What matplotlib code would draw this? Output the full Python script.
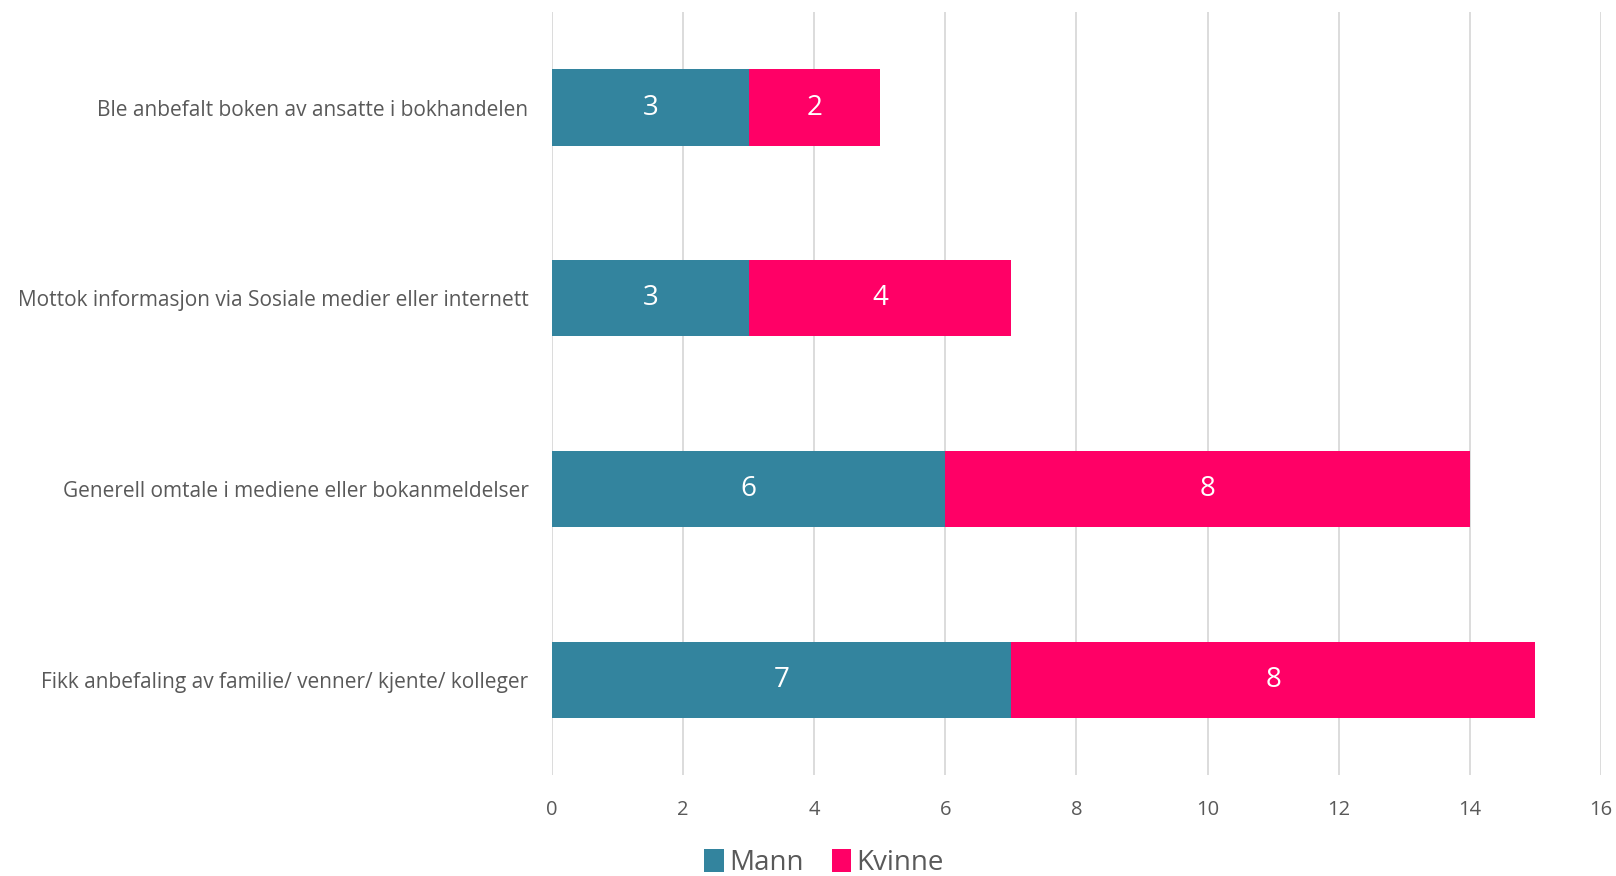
import matplotlib.pyplot as plt

categories = [
    'Ble anbefalt boken av ansatte i bokhandelen',
    'Mottok informasjon via Sosiale medier eller internett',
    'Generell omtale i mediene eller bokanmeldelser',
    'Fikk anbefaling av familie/ venner/ kjente/ kolleger',
]
mann = [3, 3, 6, 7]
kvinne = [2, 4, 8, 8]
xticks = [0, 2, 4, 6, 8, 10, 12, 14, 16]

teal = '#33849E'
pink = '#FF0066'
grey = '#595959'

plt.rcParams['font.family'] = ['Open Sans', 'DejaVu Sans']

fig = plt.figure(figsize=(16.16, 8.76), dpi=100)
ax = fig.add_axes([0.3416, 0.1153, 0.6491, 0.8707])

ypos = list(range(len(categories)))
b1 = ax.barh(ypos, mann, height=0.4, color=teal, label='Mann', zorder=3)
b2 = ax.barh(ypos, kvinne, left=mann, height=0.4, color=pink, label='Kvinne', zorder=3)
ax.bar_label(b1, label_type='center', color='white', fontsize=20)
ax.bar_label(b2, label_type='center', color='white', fontsize=20)

ax.set_ylim(3.5, -0.5)
ax.set_xlim(0, 16)
ax.set_xticks(xticks)
ax.set_yticks(ypos)
ax.set_yticklabels(categories)
ax.tick_params(axis='both', length=0, colors=grey)
ax.tick_params(axis='y', pad=17, labelsize=15)
ax.tick_params(axis='x', pad=18, labelsize=14.5)
ax.grid(axis='x', color='#D9D9D9', linewidth=1.3, zorder=0)
for s in ax.spines.values():
    s.set_visible(False)

fig.legend(loc='center', bbox_to_anchor=(0.51, 0.015), ncol=2, frameon=False,
           fontsize=20, handlelength=0.7, handleheight=0.9, handletextpad=0.2,
           columnspacing=1.0, labelcolor=grey)

fig.savefig('out.png', dpi=100)
